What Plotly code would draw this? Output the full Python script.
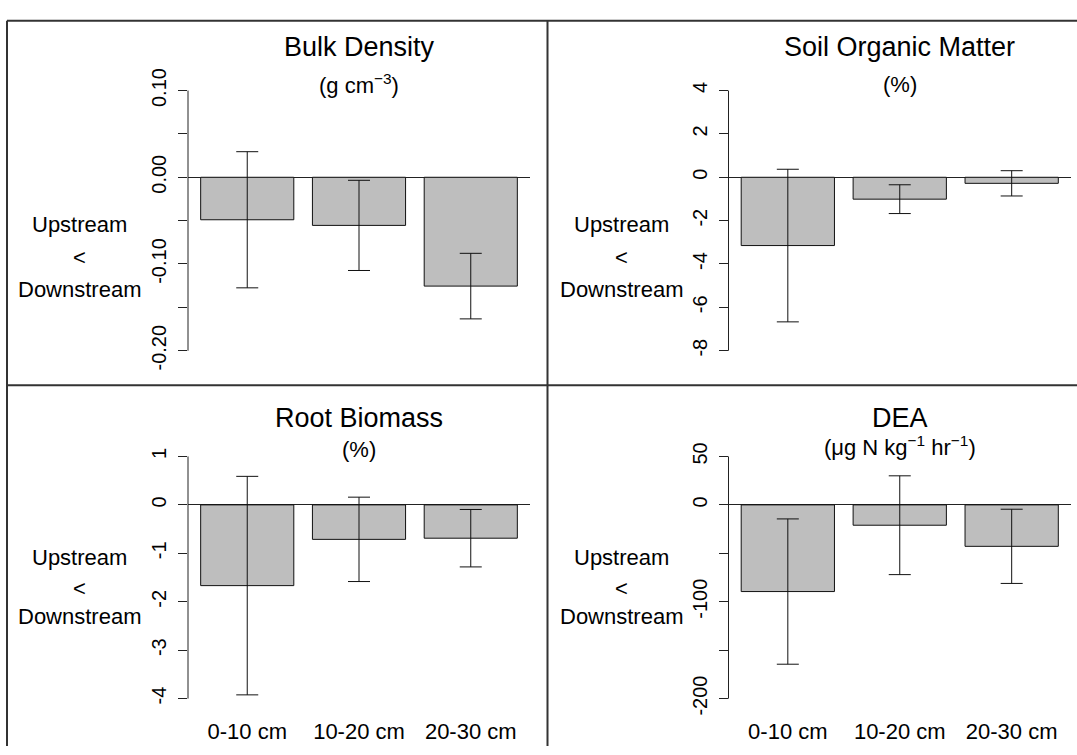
import plotly.graph_objects as go

W, H = 1077, 755

categories = ["0-10 cm", "10-20 cm", "20-30 cm"]

bulk_density = [-0.049, -0.0555, -0.1255]
bulk_density_err = [0.0785, 0.052, 0.0378]

som = [-3.15, -1.01, -0.28]
som_err = [3.52, 0.664, 0.583]

root_biomass = [-1.667, -0.712, -0.688]
root_biomass_err = [2.256, 0.871, 0.593]

dea = [-89.5, -21.0, -42.8]
dea_err = [75.0, 51.0, 38.3]

panel_titles = ["Bulk Density", "Soil Organic Matter", "Root Biomass", "DEA"]
panel_units = ["(g cm<sup>\u22123</sup>)", "(%)", "(%)",
               "(\u03bcg N kg<sup>\u22121</sup> hr<sup>\u22121</sup>)"]

ytick_vals = [
    [0.10, 0.00, -0.10, -0.20],
    [4, 2, 0, -2, -4, -6, -8],
    [1, 0, -1, -2, -3, -4],
    [50, 0, -100, -200],
]
ytick_text = [
    ["0.10", "0.00", "-0.10", "-0.20"],
    ["4", "2", "0", "-2", "-4", "-6", "-8"],
    ["1", "0", "-1", "-2", "-3", "-4"],
    ["50", "0", "-100", "-200"],
]
ytick_minor_step = [0.05, None, None, 50]
y_limits = [(-0.20, 0.10), (-8, 4), (-4, 1), (-200, 50)]

values = [bulk_density, som, root_biomass, dea]
errors = [bulk_density_err, som_err, root_biomass_err, dea_err]

FONT = "Liberation Sans, Arial, Helvetica, sans-serif"

# layout geometry (pixels)
col_x = [(188.0, 530.0), (728.5, 1071.0)]
row_y = [(70.1, 359.1), (447.2, 716.2)]


def px_x(v):
    return v / W


def px_y(v):
    return 1 - v / H


fig = go.Figure()
annotations = []
shapes = []

for i in range(4):
    r, c = divmod(i, 2)
    n = i + 1
    xa = "x" if n == 1 else f"x{n}"
    ya = "y" if n == 1 else f"y{n}"
    fig.add_trace(go.Bar(
        x=categories, y=values[i], xaxis=xa, yaxis=ya,
        width=1 / 1.2,
        marker=dict(color="#BEBEBE", line=dict(color="#111111", width=1)),
        error_y=dict(type="data", array=errors[i], color="#111111",
                     thickness=1, width=11),
        showlegend=False, hoverinfo="skip",
    ))
    lo, hi = y_limits[i]
    ext = (hi - lo) * 0.04
    x0, x1 = col_x[c]
    y0, y1 = row_y[r]
    xkey = "xaxis" if n == 1 else f"xaxis{n}"
    ykey = "yaxis" if n == 1 else f"yaxis{n}"
    xax = dict(
        domain=[px_x(x0), px_x(x1)], anchor=ya, type="category",
        categoryorder="array", categoryarray=categories,
        range=[-0.53, 2.53], showgrid=False, zeroline=False, showline=False,
        ticks="",
    )
    if r == 1:
        xax.update(tickfont=dict(family=FONT, size=22, color="#000"),
                   ticklabelstandoff=8, showticklabels=True)
    else:
        xax.update(showticklabels=False, tickmode="array", tickvals=[])
    fig.layout[xkey] = xax
    yax = dict(
        domain=[px_y(y1), px_y(y0)], anchor=xa,
        range=[lo - ext, hi + ext], showgrid=False,
        zeroline=True, zerolinecolor="#222222", zerolinewidth=1,
        showline=False, ticks="outside", ticklen=9, tickwidth=1,
        tickcolor="#222222",
        tickmode="array",
        tickvals=ytick_vals[i], ticktext=ytick_text[i], tickangle=-90,
        tickfont=dict(family=FONT, size=20, color="#000"),
        ticklabelstandoff=4,
    )
    if ytick_minor_step[i] is not None:
        yax["minor"] = dict(ticks="outside", ticklen=9, tickwidth=1,
                            tickcolor="#222222", tick0=0,
                            dtick=ytick_minor_step[i], showgrid=False)
    fig.layout[ykey] = yax
    # axis line spanning the tick range only
    shapes.append(dict(type="line", xref=f"{xa} domain", yref=ya,
                       x0=0, x1=0, y0=lo, y1=hi,
                       line=dict(color="#222222", width=1)))
    # titles
    cx = (x0 + x1) / 2
    ty = [35.5, 418.0][r]
    uy = [74.0, 450.0][r] if i != 1 else 75.0
    if i == 3:
        uy = 446.5
    annotations.append(dict(text=panel_titles[i], x=px_x(cx), y=px_y(ty),
                            xref="paper", yref="paper", showarrow=False,
                            xanchor="center", yanchor="middle",
                            font=dict(family=FONT, size=27, color="#000")))
    annotations.append(dict(text=panel_units[i], x=px_x(cx), y=px_y(uy),
                            xref="paper", yref="paper", showarrow=False,
                            xanchor="center", yanchor="middle",
                            font=dict(family=FONT, size=22, color="#000")))
    lx = [79.3, 621.2][c]
    ly = [(218.3, 252.5, 285.0), (560.7, 593.0, 621.3)][r]
    for txt, yy in zip(["Upstream", "&lt;", "Downstream"], ly):
        annotations.append(dict(text=txt, x=px_x(lx), y=px_y(yy),
                                xref="paper", yref="paper", showarrow=False,
                                xanchor="center", yanchor="middle",
                                font=dict(family=FONT, size=22, color="#000")))

# frame lines
frame = dict(color="#333333", width=2)
shapes += [
    dict(type="line", xref="paper", yref="paper", x0=px_x(7), x1=px_x(7),
         y0=px_y(9), y1=0, line=frame),
    dict(type="line", xref="paper", yref="paper", x0=px_x(7), x1=1,
         y0=px_y(9), y1=px_y(9), line=frame),
    dict(type="line", xref="paper", yref="paper", x0=px_x(547.5), x1=px_x(547.5),
         y0=px_y(9), y1=0, line=frame),
    dict(type="line", xref="paper", yref="paper", x0=px_x(7), x1=1,
         y0=px_y(384), y1=px_y(384), line=frame),
]

fig.update_layout(
    width=W, height=H, margin=dict(l=0, r=0, t=0, b=0),
    paper_bgcolor="white", plot_bgcolor="white",
    annotations=annotations, shapes=shapes,
    font=dict(family=FONT, color="#000"),
)

fig.write_html("out.html")
